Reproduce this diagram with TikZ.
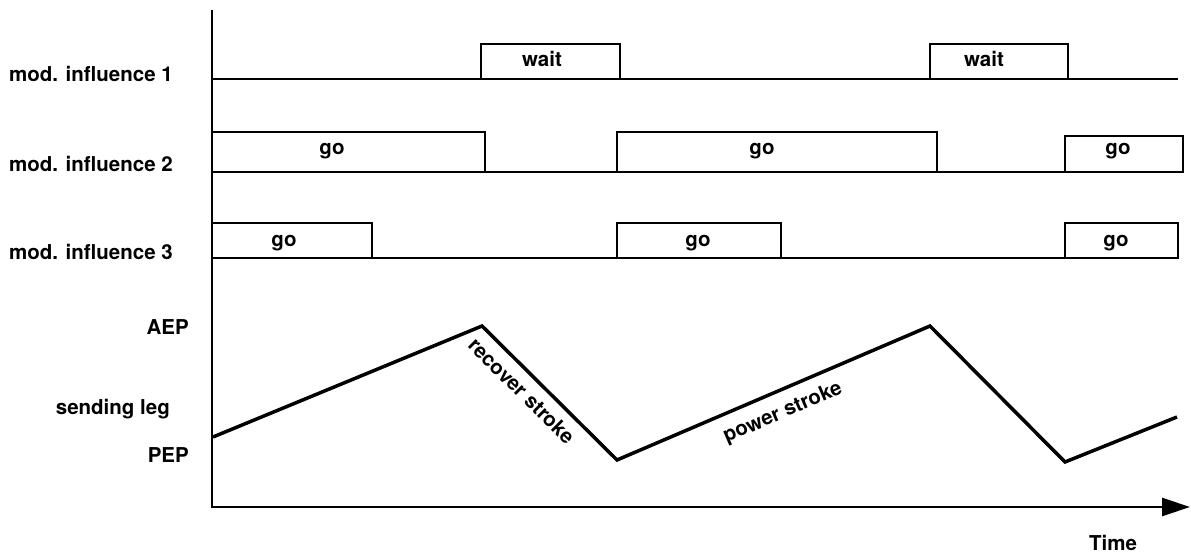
\documentclass[tikz,border=0pt]{standalone}
\usepackage{fontspec}
\setmainfont{TeX Gyre Heros}
\usetikzlibrary{arrows.meta}

\begin{document}
\begin{tikzpicture}[x=1pt,y=1pt,
  sig/.style={line width=2.9pt, line join=miter},
  leg/.style={line width=3.5pt, line join=miter},
  lbl/.style={font=\fontsize{20.5}{24}\selectfont\bfseries, inner sep=0pt},
  rowlbl/.style={lbl, anchor=base east}]
\useasboundingbox (0,0) rectangle (1191,554);

% axes
\coordinate (ytop) at (212,544);
\coordinate (org) at (212,47);
\coordinate (xend) at (1190,47);
\draw[sig, -{Triangle[length=28pt,width=18pt]}] (ytop) -- (org) -- (xend);

% mod. influence 1
\draw[sig] (212,475) -- (1178,475);
\draw[sig] (481,475) rectangle (620,510);
\draw[sig] (930,475) rectangle (1068,510);

% mod. influence 2
\draw[sig] (212,382) -- (1183,382);
\draw[sig] (212,382) rectangle (485,422);
\draw[sig] (617,382) rectangle (937,422);
\draw[sig] (1065,382) rectangle (1183,418);

% mod. influence 3
\draw[sig] (212,296) -- (1178,296);
\draw[sig] (212,296) rectangle (372,331);
\draw[sig] (617,296) rectangle (781,331);
\draw[sig] (1065,296) rectangle (1178,331);

% leg position
\coordinate (w0) at (213,117);
\coordinate (w1) at (482,228);
\coordinate (w2) at (617,94);
\coordinate (w3) at (930,228);
\coordinate (w4) at (1065,92);
\coordinate (w5) at (1177,137);
\draw[leg] (w0) -- (w1) -- (w2) -- (w3) -- (w4) -- (w5);

\node[rowlbl] (mod1) at (173,472) {mod. influence 1};
\node[rowlbl] (mod2) at (173,382) {mod. influence 2};
\node[rowlbl] (mod3) at (173,294) {mod. influence 3};
\node[rowlbl] (aep) at (189,219) {AEP};
\node[rowlbl] (send) at (170,139) {sending leg};
\node[rowlbl] (pep) at (189,91) {PEP};
\node[lbl, anchor=base] (time) at (1113,3) {Time};

\node[lbl, anchor=base] (wait1) at (542,487) {wait};
\node[lbl, anchor=base] (wait2) at (984,487) {wait};
\foreach \x [count=\i] in {332,762,1118}
  \node[lbl, anchor=base] (goA\i) at (\x,399) {go};
\foreach \x [count=\i] in {284,698,1116}
  \node[lbl, anchor=base] (goB\i) at (\x,307) {go};

\node[lbl, rotate=-44.8] (recover) at (522,163) {recover stroke};
\node[lbl, rotate=23.2] (power) at (783,141) {power stroke};
\end{tikzpicture}
\end{document}
